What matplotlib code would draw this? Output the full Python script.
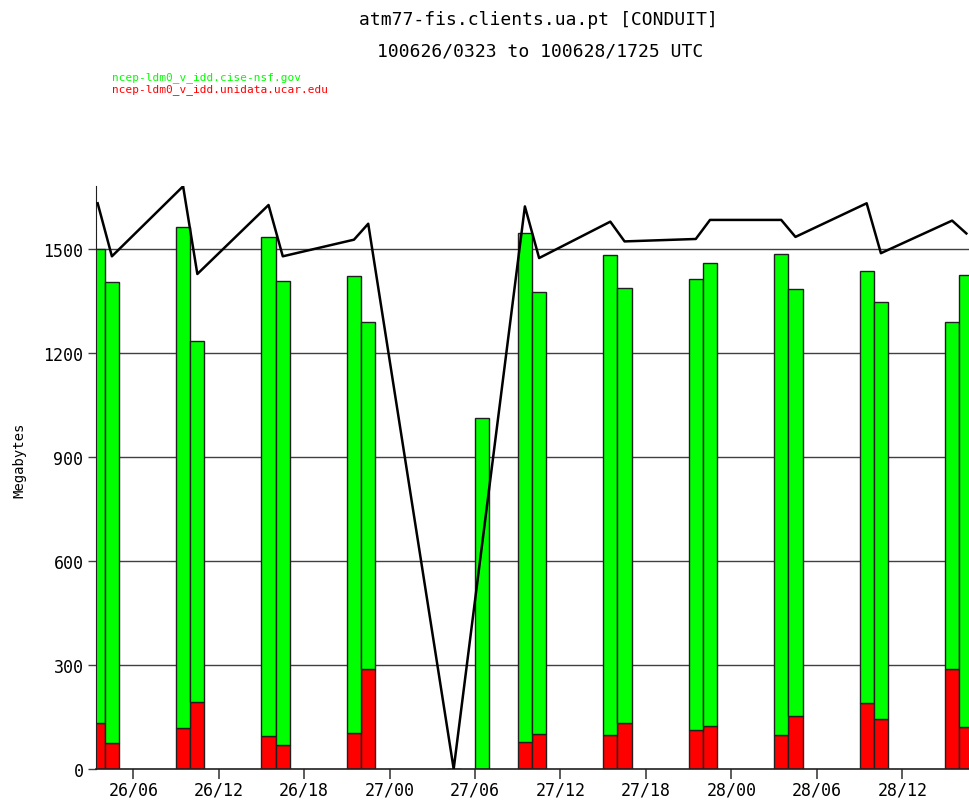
import numpy as np
from matplotlib import pyplot as plt

# hourly volumes, hours counted from 26/00 UTC
bar_hours = [3, 4, 9, 10, 15, 16, 21, 22, 28, 30, 33, 34, 39, 40, 45, 46, 51, 52, 57, 58, 63, 64]
unidata_mb = [132, 74, 117, 192, 94, 70, 104, 288, 0, 0, 77, 101, 97, 132, 112, 125, 97, 152, 189, 145, 288, 120]
cise_mb = [1368, 1331, 1447, 1043, 1440, 1338, 1317, 1001, 0, 1012, 1469, 1275, 1387, 1255, 1303, 1334,
           1389, 1233, 1249, 1202, 1001, 1305]

# product volume trace, plotted at the middle of each hour
line_hours = [3.5, 4.5, 9.5, 10.5, 15.5, 16.5, 21.5, 22.5, 28.5, 33.5, 34.5, 39.5, 40.5, 45.5, 46.5,
              51.5, 52.5, 57.5, 58.5, 63.5, 64.5]
line_mb = [1632, 1479, 1681, 1428, 1627, 1479, 1527, 1573, 0, 1623, 1474, 1579, 1522, 1529, 1584,
           1584, 1535, 1632, 1488, 1582, 1545]

tick_hours = [6, 12, 18, 24, 30, 36, 42, 48, 54, 60]
tick_labels = ['26/06', '26/12', '26/18', '27/00', '27/06', '27/12', '27/18', '28/00', '28/06', '28/12']
y_ticks = [0, 300, 600, 900, 1200, 1500]

t_start = 3 + 23 / 60.0
t_end = 48 + 17 + 25 / 60.0

mono = 'DejaVu Sans Mono'
W, H = 969, 803

figure = plt.figure(figsize=(W / 100, H / 100), dpi=100)
axes = figure.add_axes([96 / W, 33 / H, 883.4 / W, 583.4 / H])

for y in y_ticks[1:]:
    axes.axhline(y, color='#404040', linewidth=1.0, zorder=1)

axes.bar(bar_hours, unidata_mb, width=1.0, align='edge', color='#ff0000',
         edgecolor='#202020', linewidth=1.0, zorder=2)
axes.bar(bar_hours, cise_mb, width=1.0, align='edge', bottom=unidata_mb, color='#00ff00',
         edgecolor='#202020', linewidth=1.0, zorder=2)
axes.plot(line_hours, line_mb, color='black', linewidth=1.8, zorder=3)

axes.set_xlim(t_start, t_end)
axes.set_ylim(0, 1683)
axes.set_xticks(tick_hours)
axes.set_xticklabels(tick_labels, fontfamily=mono, fontsize=12)
axes.set_yticks(y_ticks)
axes.set_yticklabels([str(v) for v in y_ticks], fontfamily=mono, fontsize=12)
axes.tick_params(axis='x', direction='out', length=7, width=1.2, color='#404040', pad=1)
axes.tick_params(axis='y', direction='out', length=6, width=1.0, color='#404040', pad=3)

for side in ('top', 'right'):
    axes.spines[side].set_visible(False)
axes.spines['left'].set_color('#202020')
axes.spines['bottom'].set_color('#202020')
axes.spines['bottom'].set_linewidth(1.2)

axes.set_ylabel('Megabytes', fontfamily=mono, fontsize=10)
axes.yaxis.set_label_coords(-70 / 883.4, 0.53)

figure.text(538 / W, 1 - 20 / H, 'atm77-fis.clients.ua.pt [CONDUIT]', ha='center', va='center',
            fontfamily=mono, fontsize=13)
figure.text(540 / W, 1 - 51 / H, '100626/0323 to 100628/1725 UTC', ha='center', va='center',
            fontfamily=mono, fontsize=13)
figure.text(112 / W, 1 - 78 / H, 'ncep-ldm0_v_idd.cise-nsf.gov', ha='left', va='center',
            fontfamily=mono, fontsize=8, color='#00ff00')
figure.text(112 / W, 1 - 90 / H, 'ncep-ldm0_v_idd.unidata.ucar.edu', ha='left', va='center',
            fontfamily=mono, fontsize=8, color='#ff0000')

figure.savefig('out.png', dpi=100)
